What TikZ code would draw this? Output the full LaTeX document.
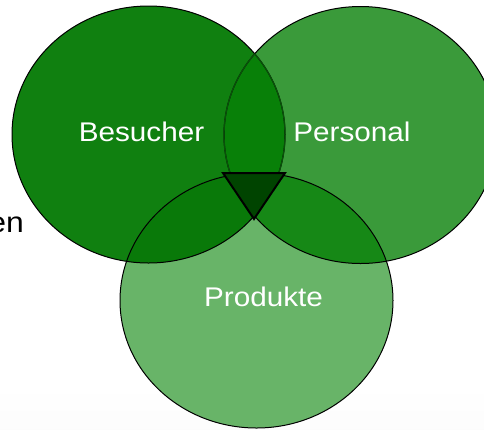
\documentclass[tikz,border=0pt]{standalone}
\usepackage{fontspec}
\setmainfont{Liberation Sans}
\definecolor{cB}{RGB}{16,128,16}
\definecolor{cP}{RGB}{58,154,58}
\definecolor{cR}{RGB}{104,180,104}
\definecolor{cBP}{RGB}{8,128,8}
\definecolor{cBR}{RGB}{9,121,9}
\definecolor{cPR}{RGB}{22,136,22}
\definecolor{cBPR}{RGB}{4,118,4}
\definecolor{cTri}{RGB}{0,68,0}
\definecolor{cInner}{RGB}{10,80,10}
\begin{document}
\begin{tikzpicture}[x=1pt,y=-1pt,
  lbl/.style={inner sep=0pt,text=white,font=\fontsize{27}{32}\selectfont,xscale=1.1},
  outline/.style={draw=black,line width=1pt}]
\useasboundingbox (0,0) rectangle (484,429);
\shade[top color=white,bottom color=gray!2] (0,385) rectangle (484,429);
\def\Bpath{(148.5,134.5) ellipse [x radius=136.5pt,y radius=128.5pt]}
\def\Ppath{(360.5,135) ellipse [x radius=136.5pt,y radius=128.5pt]}
\def\Rpath{(256.5,300.5) ellipse [x radius=136.5pt,y radius=127.5pt]}
% base fills
\fill[cB] \Bpath;
\fill[cP] \Ppath;
\fill[cR] \Rpath;
% overlaps
\begin{scope}\clip \Bpath; \fill[cBP] \Ppath; \end{scope}
\begin{scope}\clip \Bpath; \fill[cBR] \Rpath; \end{scope}
\begin{scope}\clip \Ppath; \fill[cPR] \Rpath; \end{scope}
\begin{scope}\clip \Bpath; \clip \Ppath; \fill[cBPR] \Rpath; \end{scope}
% outlines
\path[outline] \Bpath;
\path[outline] \Ppath;
\begin{scope}\clip \Ppath; \draw[cInner,line width=1.3pt] \Bpath; \end{scope}
\begin{scope}\clip \Bpath; \draw[cInner,line width=1.3pt] \Ppath; \end{scope}
\path[outline] \Rpath;
% centre triangle
\draw[line width=2pt,fill=cTri,line join=miter] (223,173) -- (285,173) -- (254,219) -- cycle;
% labels
\node[lbl,anchor=base] (tB) at (141.5,141.7) {Besucher};
\node[lbl,anchor=base] (tP) at (352,141.7) {Personal};
\node[lbl,anchor=base] (tR) at (263.5,306.7) {Produkte};
\node[lbl,text=black,anchor=base east,font=\fontsize{29}{34}\selectfont] (tEn) at (24,232) {en};
\end{tikzpicture}
\end{document}
